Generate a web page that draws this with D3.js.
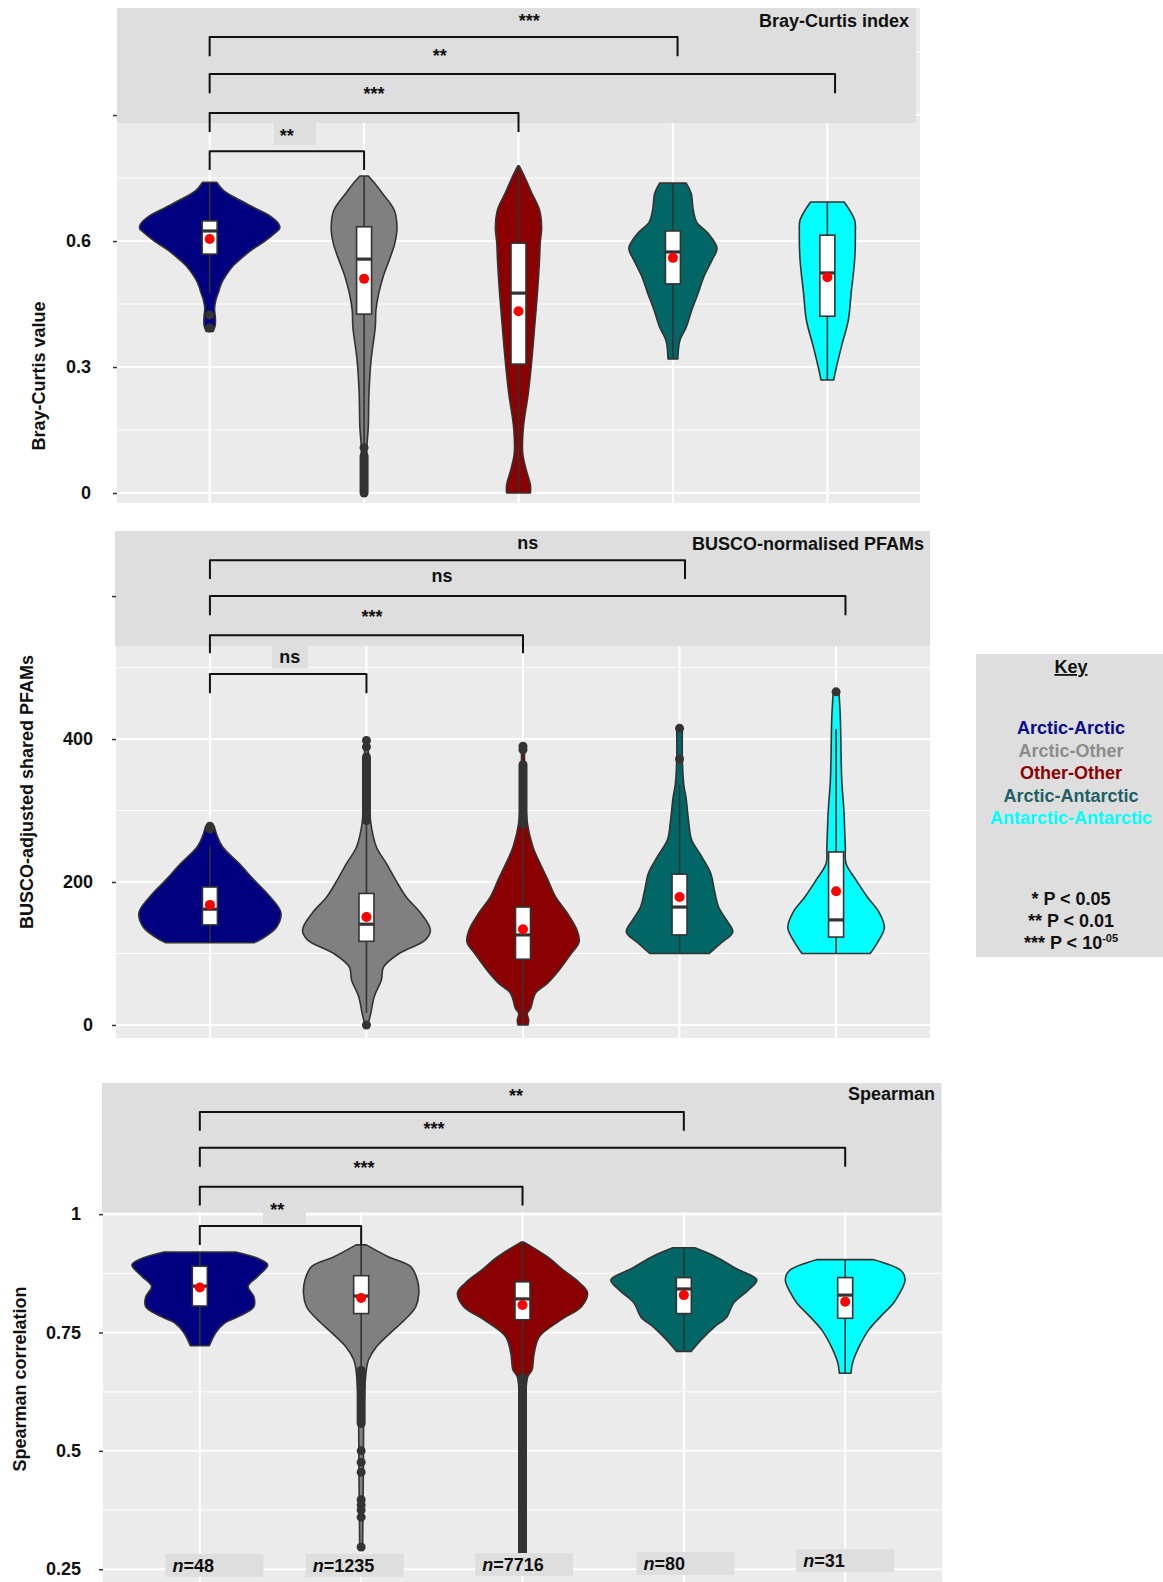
<!DOCTYPE html>
<html>
<head>
<meta charset="utf-8">
<script src="https://cdn.jsdelivr.net/npm/d3@7"></script>
<style>
  body { margin: 0; background: #fff; }
  svg { display: block; font-family: "Liberation Sans", Arial, sans-serif; font-weight: bold; }
</style>
</head>
<body>
<svg id="fig" width="1163" height="1582"></svg>
<script>
// ---------------------------------------------
//  Three violin panels + key (Arctic comparisons)
// ---------------------------------------------

const groups     = ["Arctic-Arctic", "Arctic-Other", "Other-Other", "Arctic-Antarctic", "Antarctic-Antarctic"];
const fills      = ["#000080", "#808080", "#8b0000", "#006666", "#00ffff"];
const keyColours = ["#0a0a90", "#8c8c8c", "#8b0000", "#1f5f66", "#00ffff"];
const pLegend    = ["* P < 0.05", "** P < 0.01", "*** P < 10"];

// Bray-Curtis: density profiles [value, relative half-width]
const bcDensity = [
  [[0.385,0.05],[0.40,0.08],[0.42,0.08],[0.44,0.07],[0.46,0.09],[0.48,0.13],[0.50,0.17],[0.52,0.24],[0.54,0.33],[0.56,0.46],[0.58,0.61],[0.60,0.79],[0.62,0.94],[0.63,1.00],[0.64,0.99],[0.66,0.86],[0.68,0.63],[0.70,0.40],[0.72,0.20],[0.74,0.10]],
  [[0,0.04],[0.055,0.04],[0.11,0.04],[0.157,0.06],[0.238,0.07],[0.317,0.10],[0.395,0.16],[0.436,0.17],[0.476,0.21],[0.514,0.27],[0.555,0.36],[0.595,0.44],[0.633,0.47],[0.674,0.43],[0.714,0.26],[0.74,0.14],[0.755,0.06]],
  [[0,0.17],[0.019,0.17],[0.055,0.11],[0.095,0.06],[0.157,0.07],[0.238,0.14],[0.317,0.19],[0.395,0.23],[0.476,0.27],[0.555,0.30],[0.595,0.31],[0.633,0.33],[0.674,0.30],[0.714,0.19],[0.752,0.09],[0.779,0.01]],
  [[0.319,0.07],[0.364,0.10],[0.395,0.19],[0.436,0.27],[0.476,0.36],[0.514,0.44],[0.555,0.56],[0.583,0.63],[0.619,0.50],[0.645,0.34],[0.674,0.29],[0.714,0.26],[0.738,0.19]],
  [[0.269,0.09],[0.30,0.13],[0.348,0.20],[0.412,0.30],[0.476,0.34],[0.555,0.39],[0.619,0.40],[0.65,0.39],[0.693,0.24]]
];
// [whisker low, q1, median, q3, whisker high]
const bcBox      = [[0.476,0.569,0.624,0.648,0.740],[0.115,0.426,0.557,0.634,0.755],[0,0.307,0.476,0.595,0.779],[0.319,0.498,0.574,0.624,0.738],[0.269,0.421,0.524,0.614,0.693]];
const bcMean     = [0.605, 0.510, 0.433, 0.560, 0.514];
const bcOutliers = [[0.424,0.393],[0.108],[],[],[]];
const bcRuns     = [[],[[0,0.088]],[],[],[]];   // dense stacks of outliers
const bcBrackets = [
  { from: 0, to: 1,    y: 0.814, tip: 0.769, label: "**",  lx: 0.5,   ly: 0.860 },
  { from: 0, to: 2,    y: 0.905, tip: 0.860, label: "***", lx: 1.064, ly: 0.960 },
  { from: 0, to: 4.05, y: 0.998, tip: 0.952, label: "**",  lx: 1.49,  ly: 1.052 },
  { from: 0, to: 3.03, y: 1.086, tip: 1.040, label: "***", lx: 2.07,  ly: 1.133 }
];
const bcLabelBox  = { x: [0.416, 0.688], y: [0.829, 0.881] };
const bcTicks     = [0, 0.3, 0.6, 0.9];
const bcTickNames = ["0", "0.3", "0.6", ""];

// BUSCO-normalised PFAMs
const pfDensity = [
  [[115,0.62],[123,0.77],[137,0.94],[157,1.00],[179,0.85],[203,0.62],[226,0.41],[249,0.18],[265,0.10],[278,0.06]],
  [[0,0.02],[16,0.06],[40,0.11],[63,0.21],[81,0.24],[100,0.46],[119,0.83],[133,0.90],[157,0.76],[179,0.56],[203,0.41],[226,0.28],[249,0.14],[283,0.06],[300,0.05],[340,0.04],[375,0.03],[398,0.02]],
  [[0,0.07],[7,0.08],[16,0.06],[24,0.11],[35,0.14],[45,0.18],[59,0.35],[77,0.51],[100,0.68],[116,0.79],[133,0.76],[157,0.62],[179,0.46],[203,0.35],[226,0.24],[249,0.14],[283,0.06],[390,0.02]],
  [[100,0.42],[115,0.59],[130,0.75],[147,0.66],[165,0.55],[189,0.49],[212,0.44],[236,0.31],[259,0.17],[283,0.13],[319,0.09],[336,0.06],[370,0.04],[415,0.04]],
  [[100,0.48],[115,0.58],[136,0.68],[157,0.61],[179,0.44],[203,0.28],[226,0.14],[249,0.13],[300,0.11],[343,0.08],[430,0.06],[466,0.04]]
];
const pfBox      = [[115,140,162,193,250],[17,117,141,184,283],[0,92,126,165,275],[100,126,165,211,336],[100,123,147,242,414]];
const pfMean     = [168, 151, 134, 179, 187];
const pfOutliers = [[278,274],[398,389,0],[390,385],[415,372],[466]];
const pfRuns     = [[],[[286,375]],[[281,364]],[],[]];
const pfBrackets = [
  { from: 0, to: 1,     y: 491, tip: 464, label: "ns",  lx: 0.51,  ly: 513 },
  { from: 0, to: 2,     y: 545, tip: 520, label: "***", lx: 1.036, ly: 576 },
  { from: 0, to: 4.06,  y: 600, tip: 573, label: "ns",  lx: 1.483, ly: 627 },
  { from: 0, to: 3.035, y: 650, tip: 624, label: "ns",  lx: 2.03,  ly: 673 }
];
const pfLabelBox  = { x: [0.397, 0.627], y: [499, 530] };
const pfTicks     = [0, 200, 400, 600];
const pfTickNames = ["0", "200", "400", ""];

// Spearman
const spDensity = [
  [[0.722,0.13],[0.75,0.22],[0.77,0.34],[0.783,0.52],[0.804,0.74],[0.826,0.74],[0.847,0.66],[0.868,0.79],[0.893,0.93],[0.905,0.82],[0.92,0.49]],
  [[0.297,0.02],[0.45,0.03],[0.60,0.04],[0.67,0.07],[0.692,0.10],[0.72,0.21],[0.756,0.45],[0.77,0.55],[0.79,0.68],[0.805,0.75],[0.833,0.79],[0.861,0.77],[0.889,0.68],[0.91,0.37],[0.935,0.07]],
  [[0.28,0.04],[0.5,0.04],[0.656,0.07],[0.671,0.13],[0.706,0.16],[0.741,0.23],[0.776,0.52],[0.805,0.81],[0.834,0.89],[0.855,0.78],[0.883,0.55],[0.91,0.34],[0.941,0.02]],
  [[0.71,0.10],[0.735,0.24],[0.762,0.42],[0.783,0.59],[0.812,0.68],[0.839,0.88],[0.861,1.00],[0.884,0.73],[0.912,0.41],[0.929,0.15]],
  [[0.664,0.08],[0.685,0.10],[0.72,0.19],[0.755,0.32],[0.783,0.48],[0.812,0.66],[0.834,0.75],[0.861,0.82],[0.88,0.77],[0.904,0.38]]
];
const spBox      = [[0.722,0.806,0.848,0.890,0.920],[0.678,0.790,0.827,0.870,0.935],[0.657,0.777,0.821,0.857,0.941],[0.710,0.790,0.842,0.866,0.929],[0.664,0.780,0.829,0.866,0.904]];
const spMean     = [0.845, 0.823, 0.808, 0.829, 0.815];
const spOutliers = [[],[0.50,0.476,0.455,0.397,0.386,0.375,0.36,0.297],[],[],[]];
const spRuns     = [[],[[0.558,0.67]],[[0.283,0.655]],[],[]];
const spBrackets = [
  { from: 0, to: 1, y: 0.975, tip: 0.935, label: "**",  lx: 0.48,  ly: 1.0175 },
  { from: 0, to: 2, y: 1.058, tip: 1.018, label: "***", lx: 1.018, ly: 1.106 },
  { from: 0, to: 4, y: 1.140, tip: 1.100, label: "***", lx: 1.452, ly: 1.189 },
  { from: 0, to: 3, y: 1.216, tip: 1.176, label: "**",  lx: 1.96,  ly: 1.258 }
];
const spLabelBox  = { x: [0.392, 0.658], y: [0.9795, 1.007] };
const spTicks     = [0.25, 0.5, 0.75, 1];
const spTickNames = ["0.25", "0.5", "0.75", "1"];
const nCounts     = [48, 1235, 7716, 80, 31];
const nShift      = [-0.17, -0.30, -0.25, -0.25, -0.26];
const nLabelY     = [0.258, 0.258, 0.260, 0.262, 0.268];

// Layout of each panel
const panels = [
  { density: bcDensity, box: bcBox, mean: bcMean, outliers: bcOutliers, runs: bcRuns,
    brackets: bcBrackets, labelBox: bcLabelBox, ticks: bcTicks, tickNames: bcTickNames,
    domain: [-0.0238, 1.155], x0: 117, x1: 920, y0: 8, y1: 503, header: [117, 916, 8, 123],
    maxHalf: 70, pad: 22, title: "Bray-Curtis index", titleX: 909, titleY: 27,
    yTitle: "Bray-Curtis value", yTitleX: 39, yTitleY: 376 },
  { density: pfDensity, box: pfBox, mean: pfMean, outliers: pfOutliers, runs: pfRuns,
    brackets: pfBrackets, labelBox: pfLabelBox, ticks: pfTicks, tickNames: pfTickNames,
    domain: [-18.2, 691], x0: 116, x1: 930, y0: 531, y1: 1038, header: [115, 930, 531, 646],
    maxHalf: 71, pad: 19, title: "BUSCO-normalised PFAMs", titleX: 924, titleY: 550,
    yTitle: "BUSCO-adjusted shared PFAMs", yTitleX: 27, yTitleY: 792 },
  { density: spDensity, box: spBox, mean: spMean, outliers: spOutliers, runs: spRuns,
    brackets: spBrackets, labelBox: spLabelBox, ticks: spTicks, tickNames: spTickNames,
    domain: [0.185, 1.277], x0: 103, x1: 942, y0: 1083, y1: 1600, header: [102, 941, 1083, 1212],
    maxHalf: 73, pad: 18, title: "Spearman", titleX: 935, titleY: 1100,
    yTitle: "Spearman correlation", yTitleX: 20, yTitleY: 1379, nLabels: true }
];

const svg  = d3.select("#fig");
const FONT = "'Liberation Sans', Arial, sans-serif";
const ink  = "#333333";

panels.forEach(p => {
  const g  = svg.append("g");
  const x  = d3.scalePoint().domain(groups).range([p.x0, p.x1]).padding(0.6);
  const xi = d3.scaleLinear().domain([0, groups.length - 1]).range([x(groups[0]), x(groups[groups.length - 1])]);
  const y  = d3.scaleLinear().domain(p.domain).range([p.y1, p.y0]);
  const w  = d3.scaleLinear().domain([0, 1]).range([0, p.maxHalf]);

  // ── fondo y rejilla ──
  g.append("rect").attr("x", p.x0).attr("y", p.y0)
    .attr("width", p.x1 - p.x0).attr("height", p.y1 - p.y0).attr("fill", "#ebebeb");

  const step  = p.ticks[1] - p.ticks[0];
  const minor = p.ticks.map(t => t + step / 2).concat([p.ticks[0] - step / 2])
    .filter(v => v > p.domain[0] && v < p.domain[1]);

  g.selectAll(".minor").data(minor).join("line")
    .attr("x1", p.x0).attr("x2", p.x1).attr("y1", d => y(d)).attr("y2", d => y(d))
    .attr("stroke", "#fff").attr("stroke-width", 1.1);
  g.selectAll(".major").data(p.ticks).join("line")
    .attr("x1", p.x0).attr("x2", p.x1).attr("y1", d => y(d)).attr("y2", d => y(d))
    .attr("stroke", "#fff").attr("stroke-width", 2);
  g.selectAll(".vert").data(groups).join("line")
    .attr("x1", d => x(d)).attr("x2", d => x(d)).attr("y1", p.y0).attr("y2", p.y1)
    .attr("stroke", "#fff").attr("stroke-width", 2);

  // cabecera gris
  const [hx0, hx1, hy0, hy1] = p.header;
  g.append("rect").attr("x", hx0).attr("y", hy0)
    .attr("width", hx1 - hx0).attr("height", hy1 - hy0).attr("fill", "#dedede");

  // eje Y
  const axis = d3.axisLeft(y).tickValues(p.ticks).tickSize(4).tickPadding(p.pad)
    .tickFormat((d, i) => p.tickNames[i]);
  g.append("g").attr("transform", `translate(${p.x0},0)`).call(axis)
    .call(a => a.select(".domain").remove())
    .call(a => a.selectAll("line").attr("stroke", ink).attr("stroke-width", 1.5))
    .call(a => a.selectAll("text").attr("font-size", 18).attr("font-weight", "bold")
      .attr("font-family", FONT).attr("fill", "#111"));

  g.append("text")
    .attr("transform", `translate(${p.yTitleX},${p.yTitleY}) rotate(-90)`)
    .attr("text-anchor", "middle").attr("dy", "0.35em")
    .attr("font-size", 18).attr("fill", "#111").text(p.yTitle);

  // ── violines ──
  p.density.forEach((prof, i) => {
    const cx = x(groups[i]);
    const area = d3.area()
      .curve(d3.curveCatmullRom.alpha(0.5))
      .y(d => y(d[0]))
      .x0(d => cx - w(d[1]))
      .x1(d => cx + w(d[1]));
    g.append("path").datum(prof).attr("d", area)
      .attr("fill", fills[i]).attr("stroke", ink).attr("stroke-width", 1.6)
      .attr("stroke-linejoin", "round");
  });

  // ── boxplots ──
  const bw = 15;
  p.box.forEach(([lo, q1, med, q3, hi], i) => {
    const cx = x(groups[i]);
    g.append("line").attr("x1", cx).attr("x2", cx).attr("y1", y(lo)).attr("y2", y(q1))
      .attr("stroke", ink).attr("stroke-width", 1.6);
    g.append("line").attr("x1", cx).attr("x2", cx).attr("y1", y(q3)).attr("y2", y(hi))
      .attr("stroke", ink).attr("stroke-width", 1.6);
    g.append("rect").attr("x", cx - bw / 2).attr("width", bw)
      .attr("y", y(q3)).attr("height", y(q1) - y(q3))
      .attr("fill", "#fff").attr("stroke", ink).attr("stroke-width", 1.6);
    g.append("line").attr("x1", cx - bw / 2).attr("x2", cx + bw / 2)
      .attr("y1", y(med)).attr("y2", y(med)).attr("stroke", ink).attr("stroke-width", 3.2);
  });

  // outliers
  p.runs.forEach((runs, i) => {
    const cx = x(groups[i]);
    runs.forEach(([a, b]) => {
      g.append("line").attr("x1", cx).attr("x2", cx).attr("y1", y(a)).attr("y2", y(b))
        .attr("stroke", ink).attr("stroke-width", 9).attr("stroke-linecap", "round");
    });
  });
  p.outliers.forEach((pts, i) => {
    const cx = x(groups[i]);
    g.selectAll(null).data(pts).join("circle")
      .attr("cx", cx).attr("cy", d => y(d)).attr("r", 4.5).attr("fill", ink);
  });

  // medias
  g.selectAll(".mean").data(p.mean).join("circle")
    .attr("cx", (d, i) => x(groups[i])).attr("cy", d => y(d)).attr("r", 5).attr("fill", "#ff0000");

  // ── significancia ──
  const lb = p.labelBox;
  g.append("rect").attr("x", xi(lb.x[0])).attr("width", xi(lb.x[1]) - xi(lb.x[0]))
    .attr("y", y(lb.y[1])).attr("height", y(lb.y[0]) - y(lb.y[1])).attr("fill", "#dedede");

  p.brackets.forEach(b => {
    const xa = xi(b.from), xb = xi(b.to), yl = y(b.y), yt = y(b.tip);
    g.append("path").attr("d", `M${xa},${yt}V${yl}H${xb}V${yt}`)
      .attr("fill", "none").attr("stroke", "#111").attr("stroke-width", 2)
      .attr("stroke-linejoin", "round");
    g.append("text").attr("x", xi(b.lx)).attr("y", y(b.ly))
      .attr("dy", b.label.includes("*") ? "0.57em" : "0.27em")
      .attr("text-anchor", "middle").attr("font-size", 18).attr("fill", "#111")
      .text(b.label);
  });

  // título del panel
  g.append("text").attr("x", p.titleX).attr("y", p.titleY).attr("text-anchor", "end")
    .attr("font-size", 18).attr("fill", "#111").text(p.title);

  // n por grupo
  if (p.nLabels) {
    nCounts.forEach((n, i) => {
      const tx = xi(i + nShift[i]), ty = y(nLabelY[i]);
      g.append("rect").attr("x", tx - 7).attr("y", ty - 11.5).attr("width", 98).attr("height", 23)
        .attr("fill", "#dedede");
      const t = g.append("text").attr("x", tx).attr("y", ty).attr("dy", "0.36em")
        .attr("font-size", 18).attr("fill", "#111");
      t.append("tspan").attr("font-style", "italic").text("n");
      t.append("tspan").text("=" + n);
    });
  }
});

// ── Key ──
const key = svg.append("g");
key.append("rect").attr("x", 976).attr("y", 654).attr("width", 187).attr("height", 303).attr("fill", "#dedede");
const kx = 1071;
key.append("text").attr("x", kx).attr("y", 673).attr("text-anchor", "middle")
  .attr("font-size", 18).attr("fill", "#111").attr("text-decoration", "underline").text("Key");
key.selectAll(".grp").data(groups).join("text")
  .attr("x", kx).attr("y", (d, i) => 734 + i * 22.5).attr("text-anchor", "middle")
  .attr("font-size", 18).attr("fill", (d, i) => keyColours[i]).text(d => d);
pLegend.forEach((s, i) => {
  const t = key.append("text").attr("x", kx).attr("y", 904.5 + i * 22).attr("text-anchor", "middle")
    .attr("font-size", 18).attr("fill", "#111").text(s);
  if (i === 2) t.append("tspan").attr("font-size", 11).attr("dy", -7).text("-05");
});
</script>
</body>
</html>
